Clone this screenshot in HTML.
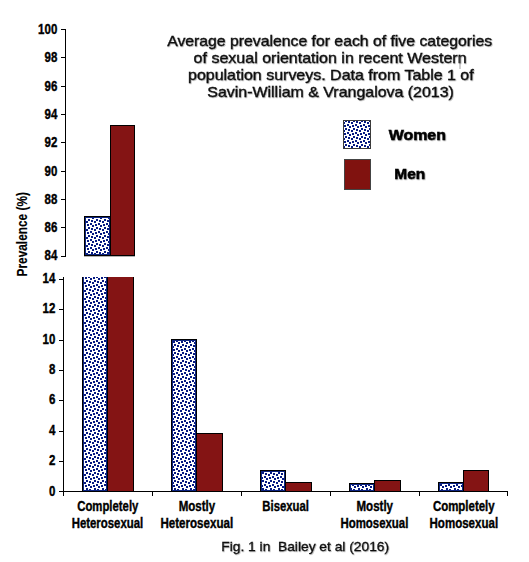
<!DOCTYPE html>
<html><head><meta charset="utf-8">
<style>
html,body{margin:0;padding:0;background:#fff;width:529px;height:562px;overflow:hidden}
svg{display:block}
text{font-family:"Liberation Sans",sans-serif}
</style></head><body>
<svg width="529" height="562" viewBox="0 0 529 562">
<defs>
<filter id="sh" x="-5%" y="-20%" width="110%" height="140%"><feDropShadow dx="0.7" dy="0.7" stdDeviation="0.5" flood-color="#000" flood-opacity="0.35"/></filter>
<pattern id="udots" patternUnits="userSpaceOnUse" width="8" height="8">
<rect width="8" height="8" fill="#fff"/>
<g fill="#061a82"><rect x="2.0" y="-1.0" width="2.0" height="2.0"/><rect x="2.0" y="7.0" width="2.0" height="2.0"/><rect x="-1.0" y="0.0" width="2.0" height="2.0"/><rect x="7.0" y="0.0" width="2.0" height="2.0"/><rect x="4.0" y="1.0" width="2.0" height="2.0"/><rect x="0.0" y="3.0" width="2.0" height="2.0"/><rect x="3.0" y="4.0" width="2.0" height="2.0"/><rect x="6.0" y="5.0" width="2.0" height="2.0"/></g>
</pattern>
<pattern id="dots" patternUnits="userSpaceOnUse" width="8" height="8">
<rect width="8" height="8" fill="#fff"/>
<g fill="#061a82"><rect x="1.0" y="1.0" width="2.0" height="2.0"/><rect x="6.0" y="0.0" width="2.0" height="2.0"/><rect x="4.0" y="2.0" width="2.0" height="2.0"/><rect x="0.0" y="4.0" width="2.0" height="2.0"/><rect x="2.0" y="6.0" width="2.0" height="2.0"/><rect x="5.0" y="5.0" width="2.0" height="2.0"/></g>
</pattern>
<pattern id="ldots" patternUnits="userSpaceOnUse" width="8" height="8">
<rect width="8" height="8" fill="#fff"/>
<g fill="#061a82"><rect x="1.0" y="0.0" width="2.0" height="2.0"/><rect x="4.0" y="1.0" width="2.0" height="2.0"/><rect x="-1.0" y="2.0" width="2.0" height="2.0"/><rect x="7.0" y="2.0" width="2.0" height="2.0"/><rect x="3.0" y="4.0" width="2.0" height="2.0"/><rect x="0.0" y="5.0" width="2.0" height="2.0"/><rect x="5.0" y="6.0" width="2.0" height="2.0"/></g>
</pattern>
</defs>
<rect width="529" height="562" fill="#fff"/>
<g filter="url(#sh)">
<text x="167.2" y="46.0" font-size="14.2" font-weight="normal" fill="#111" stroke="#111" stroke-width="0.35" textLength="325" lengthAdjust="spacingAndGlyphs">Average prevalence for each of five categories</text>
<text x="193.6" y="63.0" font-size="14.2" font-weight="normal" fill="#111" stroke="#111" stroke-width="0.35" textLength="273" lengthAdjust="spacingAndGlyphs">of sexual orientation in recent Western</text>
<text x="188.0" y="80.0" font-size="14.2" font-weight="normal" fill="#111" stroke="#111" stroke-width="0.35" textLength="285.7" lengthAdjust="spacingAndGlyphs">population surveys. Data from Table 1 of</text>
<text x="207.3" y="97.0" font-size="14.2" font-weight="normal" fill="#111" stroke="#111" stroke-width="0.35" textLength="246.6" lengthAdjust="spacingAndGlyphs">Savin-William &amp; Vrangalova (2013)</text>
</g>
<line x1="460" y1="56.5" x2="460" y2="69" stroke="#888" stroke-width="0.8"/>
<rect x="343" y="120" width="28" height="29" fill="#3a3a3a"/>
<rect x="344" y="121" width="26" height="27" fill="url(#ldots)"/>
<rect x="344" y="159" width="27" height="31" fill="#444"/>
<rect x="345" y="160" width="25" height="29" fill="#80120f"/>
<g filter="url(#sh)">
<text x="388.7" y="140.4" font-size="15.4" font-weight="bold" fill="#000" stroke="#000" stroke-width="0.55" textLength="57.2" lengthAdjust="spacingAndGlyphs">Women</text>
<text x="394.3" y="179.3" font-size="15.4" font-weight="bold" fill="#000" stroke="#000" stroke-width="0.55" textLength="30.9" lengthAdjust="spacingAndGlyphs">Men</text>
</g>
<rect x="65" y="29" width="1" height="228" fill="#000"/>
<rect x="61" y="29" width="5" height="1" fill="#000"/>
<rect x="61" y="57" width="5" height="1" fill="#000"/>
<rect x="61" y="86" width="5" height="1" fill="#000"/>
<rect x="61" y="114" width="5" height="1" fill="#000"/>
<rect x="61" y="142" width="5" height="1" fill="#000"/>
<rect x="61" y="171" width="5" height="1" fill="#000"/>
<rect x="61" y="199" width="5" height="1" fill="#000"/>
<rect x="61" y="227" width="5" height="1" fill="#000"/>
<rect x="61" y="256" width="5" height="1" fill="#000"/>
<text transform="translate(57.3,34.20) scale(0.815,1)" x="0" y="0" font-size="14.1" font-weight="bold" text-anchor="end" fill="#000" stroke="#000" stroke-width="0.4">100</text>
<text transform="translate(57.3,61.55) scale(0.815,1)" x="0" y="0" font-size="14.1" font-weight="bold" text-anchor="end" fill="#000" stroke="#000" stroke-width="0.4">98</text>
<text transform="translate(57.3,90.55) scale(0.815,1)" x="0" y="0" font-size="14.1" font-weight="bold" text-anchor="end" fill="#000" stroke="#000" stroke-width="0.4">96</text>
<text transform="translate(57.3,118.55) scale(0.815,1)" x="0" y="0" font-size="14.1" font-weight="bold" text-anchor="end" fill="#000" stroke="#000" stroke-width="0.4">94</text>
<text transform="translate(57.3,146.55) scale(0.815,1)" x="0" y="0" font-size="14.1" font-weight="bold" text-anchor="end" fill="#000" stroke="#000" stroke-width="0.4">92</text>
<text transform="translate(57.3,175.55) scale(0.815,1)" x="0" y="0" font-size="14.1" font-weight="bold" text-anchor="end" fill="#000" stroke="#000" stroke-width="0.4">90</text>
<text transform="translate(57.3,203.55) scale(0.815,1)" x="0" y="0" font-size="14.1" font-weight="bold" text-anchor="end" fill="#000" stroke="#000" stroke-width="0.4">88</text>
<text transform="translate(57.3,231.65) scale(0.815,1)" x="0" y="0" font-size="14.1" font-weight="bold" text-anchor="end" fill="#000" stroke="#000" stroke-width="0.4">86</text>
<text transform="translate(57.3,259.75) scale(0.815,1)" x="0" y="0" font-size="14.1" font-weight="bold" text-anchor="end" fill="#000" stroke="#000" stroke-width="0.4">84</text>
<rect x="84" y="216" width="27" height="40" fill="#000"/>
<rect x="85" y="217" width="25" height="38" fill="#0c2482"/>
<rect x="86" y="218" width="23" height="36" fill="url(#udots)"/>
<rect x="110" y="125" width="25" height="131" fill="#000"/>
<rect x="111" y="126" width="23" height="129" fill="#841414"/>
<rect x="84" y="255.9" width="51" height="0.6" fill="#000" opacity="0.6"/>
<text transform="translate(27.4,276.5) rotate(-90)" font-size="15.5" font-weight="bold" fill="#000" stroke="#000" stroke-width="0.15" textLength="84.5" lengthAdjust="spacingAndGlyphs">Prevalence (%)</text>
<rect x="63" y="277" width="1" height="219" fill="#000"/>
<rect x="59" y="491" width="449" height="1" fill="#000"/>
<rect x="59" y="279" width="5" height="1" fill="#000"/>
<rect x="59" y="309" width="5" height="1" fill="#000"/>
<rect x="59" y="340" width="5" height="1" fill="#000"/>
<rect x="59" y="370" width="5" height="1" fill="#000"/>
<rect x="59" y="400" width="5" height="1" fill="#000"/>
<rect x="59" y="431" width="5" height="1" fill="#000"/>
<rect x="59" y="461" width="5" height="1" fill="#000"/>
<rect x="59" y="491" width="5" height="1" fill="#000"/>
<rect x="152" y="491" width="1" height="5" fill="#000"/>
<rect x="241" y="491" width="1" height="5" fill="#000"/>
<rect x="330" y="491" width="1" height="5" fill="#000"/>
<rect x="419" y="491" width="1" height="5" fill="#000"/>
<rect x="507" y="491" width="1" height="5" fill="#000"/>
<text transform="translate(55.4,283.35) scale(0.815,1)" x="0" y="0" font-size="14.1" font-weight="bold" text-anchor="end" fill="#000" stroke="#000" stroke-width="0.4">14</text>
<text transform="translate(55.4,313.35) scale(0.815,1)" x="0" y="0" font-size="14.1" font-weight="bold" text-anchor="end" fill="#000" stroke="#000" stroke-width="0.4">12</text>
<text transform="translate(55.4,343.65) scale(0.815,1)" x="0" y="0" font-size="14.1" font-weight="bold" text-anchor="end" fill="#000" stroke="#000" stroke-width="0.4">10</text>
<text transform="translate(55.4,374.35) scale(0.815,1)" x="0" y="0" font-size="14.1" font-weight="bold" text-anchor="end" fill="#000" stroke="#000" stroke-width="0.4">8</text>
<text transform="translate(55.4,404.35) scale(0.815,1)" x="0" y="0" font-size="14.1" font-weight="bold" text-anchor="end" fill="#000" stroke="#000" stroke-width="0.4">6</text>
<text transform="translate(55.4,435.35) scale(0.815,1)" x="0" y="0" font-size="14.1" font-weight="bold" text-anchor="end" fill="#000" stroke="#000" stroke-width="0.4">4</text>
<text transform="translate(55.4,465.35) scale(0.815,1)" x="0" y="0" font-size="14.1" font-weight="bold" text-anchor="end" fill="#000" stroke="#000" stroke-width="0.4">2</text>
<text transform="translate(55.4,495.75) scale(0.815,1)" x="0" y="0" font-size="14.1" font-weight="bold" text-anchor="end" fill="#000" stroke="#000" stroke-width="0.4">0</text>
<rect x="82" y="277" width="26" height="215" fill="#000"/>
<rect x="83" y="277" width="24" height="214" fill="#0c2482"/>
<rect x="84" y="277" width="22" height="213" fill="url(#dots)"/>
<rect x="107" y="277" width="27" height="215" fill="#000"/>
<rect x="108" y="277" width="25" height="214" fill="#841414"/>
<rect x="171" y="339" width="26" height="153" fill="#000"/>
<rect x="172" y="340" width="24" height="151" fill="#0c2482"/>
<rect x="173" y="341" width="22" height="149" fill="url(#dots)"/>
<rect x="196" y="433" width="27" height="59" fill="#000"/>
<rect x="197" y="434" width="25" height="57" fill="#841414"/>
<rect x="260" y="470" width="26" height="22" fill="#000"/>
<rect x="261" y="471" width="24" height="20" fill="#0c2482"/>
<rect x="262" y="472" width="22" height="18" fill="url(#dots)"/>
<rect x="285" y="482" width="27" height="10" fill="#000"/>
<rect x="286" y="483" width="25" height="8" fill="#841414"/>
<rect x="349" y="483" width="26" height="9" fill="#000"/>
<rect x="350" y="484" width="24" height="7" fill="#0c2482"/>
<rect x="351" y="485" width="22" height="5" fill="url(#dots)"/>
<rect x="374" y="480" width="27" height="12" fill="#000"/>
<rect x="375" y="481" width="25" height="10" fill="#841414"/>
<rect x="438" y="482" width="26" height="10" fill="#000"/>
<rect x="439" y="483" width="24" height="8" fill="#0c2482"/>
<rect x="440" y="484" width="22" height="6" fill="url(#dots)"/>
<rect x="463" y="470" width="26" height="22" fill="#000"/>
<rect x="464" y="471" width="24" height="20" fill="#841414"/>
<text x="77.2" y="511.0" font-size="15.2" font-weight="bold" fill="#000" stroke="#000" stroke-width="0.4" textLength="61.2" lengthAdjust="spacingAndGlyphs">Completely</text>
<text x="71.7" y="528.4" font-size="15.2" font-weight="bold" fill="#000" stroke="#000" stroke-width="0.4" textLength="71.5" lengthAdjust="spacingAndGlyphs">Heterosexual</text>
<text x="178.7" y="511.0" font-size="15.2" font-weight="bold" fill="#000" stroke="#000" stroke-width="0.4" textLength="36.5" lengthAdjust="spacingAndGlyphs">Mostly</text>
<text x="160.4" y="528.4" font-size="15.2" font-weight="bold" fill="#000" stroke="#000" stroke-width="0.4" textLength="72.8" lengthAdjust="spacingAndGlyphs">Heterosexual</text>
<text x="262.3" y="511.0" font-size="15.2" font-weight="bold" fill="#000" stroke="#000" stroke-width="0.4" textLength="46.7" lengthAdjust="spacingAndGlyphs">Bisexual</text>
<text x="356.5" y="511.0" font-size="15.2" font-weight="bold" fill="#000" stroke="#000" stroke-width="0.4" textLength="36.5" lengthAdjust="spacingAndGlyphs">Mostly</text>
<text x="340.4" y="528.4" font-size="15.2" font-weight="bold" fill="#000" stroke="#000" stroke-width="0.4" textLength="68.0" lengthAdjust="spacingAndGlyphs">Homosexual</text>
<text x="432.9" y="511.0" font-size="15.2" font-weight="bold" fill="#000" stroke="#000" stroke-width="0.4" textLength="61.8" lengthAdjust="spacingAndGlyphs">Completely</text>
<text x="429.5" y="528.4" font-size="15.2" font-weight="bold" fill="#000" stroke="#000" stroke-width="0.4" textLength="68.6" lengthAdjust="spacingAndGlyphs">Homosexual</text>
<text filter="url(#sh)" x="221.3" y="551.0" font-size="12.8" fill="#111" stroke="#111" stroke-width="0.3" textLength="167.8" lengthAdjust="spacingAndGlyphs" xml:space="preserve">Fig. 1 in  Bailey et al (2016)</text>
</svg>
</body></html>
